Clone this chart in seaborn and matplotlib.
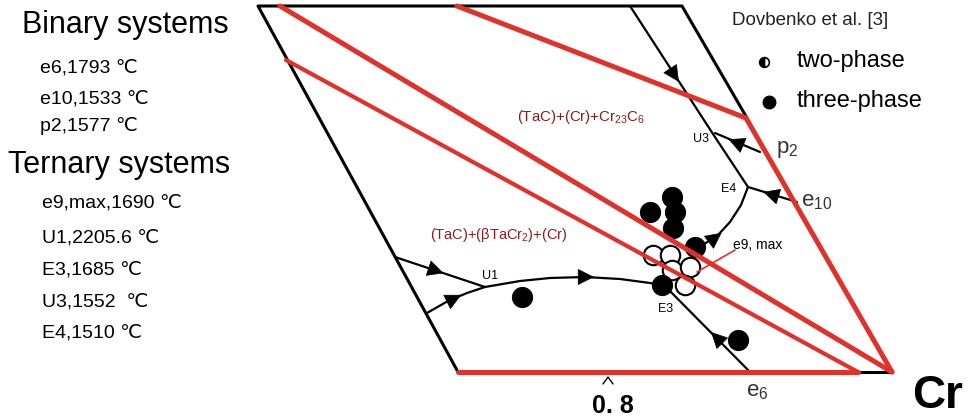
import matplotlib
matplotlib.use('Agg')
import matplotlib.pyplot as plt
import seaborn as sns
import numpy as np

# 좌표는 그림의 픽셀 좌표 (x: 왼쪽->오른쪽, y: 위->아래)
RED = '#e0322b'
MAROON = '#8c1c1c'

# 외곽선 (검정)
frame_black = [([458, 258, 682, 747], [372, 6, 6, 118]),
               ([858, 892], [372, 372])]
# 외곽선 (빨강)
frame_red = [([746, 892], [118, 372]),
             ([458, 858], [372, 372])]
# 타이라인 (빨강)
tie_lines = [([280, 892], [6, 372]),
             ([457, 746], [6, 118]),
             ([286, 858], [60, 372])]
tie_widths = [3.6, 3.6, 3.0]

# 단변성 곡선 (검정)
curves = {
    'top': ([630, 713, 748], [6, 134, 187]),
    'p2': ([760, 715], [152, 133]),
    'e10': ([797, 748], [202, 187]),
    'e9': ([695, 718, 730, 741, 748], [250, 235, 222, 205, 187]),
    'U1E3': ([485, 520, 550, 585, 620, 650, 662], [287, 281, 278, 277, 279, 283, 285]),
    'left1': ([395, 485], [257, 287]),
    'left2': ([427, 448, 467, 485], [313, 301, 293, 287]),
    'e6': ([662, 750], [283, 372]),
}
# 화살표 (중심, 방향)
arrow_pos = [(675, 76), (735, 142), (770, 194), (716, 237),
             (587, 277), (437, 271), (455, 298), (716, 337)]
arrow_dir = [(118, 181), (-45, -19), (-49, -15), (1, -0.75),
             (1, 0), (90, 30), (1, -0.5), (-1, -1)]

# 실험점
three_x = [522, 738, 662, 672, 650, 675, 673, 695]
three_y = [297, 340, 285, 197, 212, 212, 228, 247]
two_x = [653, 670, 672, 690, 685]
two_y = [255, 255, 270, 267, 285]

binary_items = ['e6,1793 ℃', 'e10,1533 ℃', 'p2,1577 ℃']
binary_y = [68, 99, 126]
ternary_items = ['e9,max,1690 ℃', 'U1,2205.6 ℃', 'E3,1685 ℃', 'U3,1552  ℃', 'E4,1510 ℃']
ternary_y = [203, 238, 270, 302, 333]

sns.set_theme(style='white')
plt.rcParams['font.family'] = ['Liberation Sans', 'DejaVu Sans']
plt.rcParams['text.color'] = 'black'
plt.rcParams['mathtext.fontset'] = 'custom'
plt.rcParams['mathtext.rm'] = 'Liberation Sans'
plt.rcParams['mathtext.it'] = 'Liberation Sans'

fig = plt.figure(figsize=(9.71, 4.17), dpi=100)
ax = fig.add_axes([0, 0, 1, 1])
ax.set_xlim(0, 971)
ax.set_ylim(417, 0)
ax.set_axis_off()

# 실험점 그리기
ax.plot(two_x, two_y, 'o', ms=14, mfc='white', mec='black', mew=1.5, zorder=2)
sns.scatterplot(x=three_x, y=three_y, s=200, color='black', edgecolor='black', ax=ax, zorder=3)

# 외곽선
for xs, ys in frame_black:
    sns.lineplot(x=xs, y=ys, sort=False, estimator=None, color='black', lw=2.2, ax=ax, zorder=4)
for xs, ys in frame_red:
    sns.lineplot(x=xs, y=ys, sort=False, estimator=None, color=RED, lw=3.6, ax=ax, zorder=6)
for (xs, ys), w in zip(tie_lines, tie_widths):
    sns.lineplot(x=xs, y=ys, sort=False, estimator=None, color=RED, lw=w, ax=ax, zorder=6)
# e9,max 지시선
ax.plot([735, 697], [250, 272], color=RED, lw=1.2, zorder=6)

for key, (xs, ys) in curves.items():
    sns.lineplot(x=xs, y=ys, sort=False, estimator=None, color='black', lw=1.6, ax=ax, zorder=5)

for (cx, cy), (dx, dy) in zip(arrow_pos, arrow_dir):
    d = np.array([dx, dy], float)
    d = d / np.hypot(*d)
    ax.annotate('', xy=(cx + 7 * d[0], cy + 7 * d[1]), xytext=(cx - 7 * d[0], cy - 7 * d[1]),
                arrowprops=dict(arrowstyle='-|>', color='black', lw=0.5,
                                mutation_scale=27, shrinkA=0, shrinkB=0), zorder=5)

# 왼쪽 텍스트
ax.text(22, 25, 'Binary systems', fontsize=22, va='center')
for t, y in zip(binary_items, binary_y):
    ax.text(40, y, t, fontsize=14, va='center')
ax.text(8, 165, 'Ternary systems', fontsize=22, va='center')
for t, y in zip(ternary_items, ternary_y):
    ax.text(42, y, t, fontsize=14, va='center')

# 범례
ax.text(732, 20, 'Dovbenko et al. [3]', fontsize=13.5, va='center', color='#222222')
ax.plot([764], [62], 'o', ms=7, fillstyle='left', mfc='black', mfcalt='white', mec='black', mew=1.2)
ax.plot([769], [102], 'o', ms=9, color='black')
ax.text(797, 61, 'two-phase', fontsize=17, va='center')
ax.text(797, 101, 'three-phase', fontsize=17, va='center')

# 상 영역 라벨
ax.text(517, 117, '(TaC)+(Cr)+Cr$_{23}$C$_6$', fontsize=10.8, color=MAROON, va='center')
ax.text(430, 235, '(TaC)+(βTaCr$_2$)+(Cr)', fontsize=10.5, color=MAROON, va='center')

# 점 라벨
ax.text(482, 276, 'U1', fontsize=9, va='center')
ax.text(658, 309, 'E3', fontsize=9, va='center')
ax.text(693, 139, 'U3', fontsize=9, va='center')
ax.text(721, 189, 'E4', fontsize=9, va='center')
ax.text(733, 245, 'e9, max', fontsize=10, va='center')
ax.text(776, 149, 'p$_2$', fontsize=16, va='center', color='#333333')
ax.text(801, 201, 'e$_{10}$', fontsize=16, va='center', color='#333333')
ax.text(746, 391, 'e$_6$', fontsize=16, va='center', color='#333333')

# 축 표시
ax.plot([603, 608, 613], [384, 377, 384], color='black', lw=1)
ax.text(613, 406, '0. 8', fontsize=18, fontweight='bold', ha='center', va='center')
ax.text(912, 396, 'Cr', fontsize=33, fontweight='bold', va='center')

plt.savefig('out.png', dpi=100)
